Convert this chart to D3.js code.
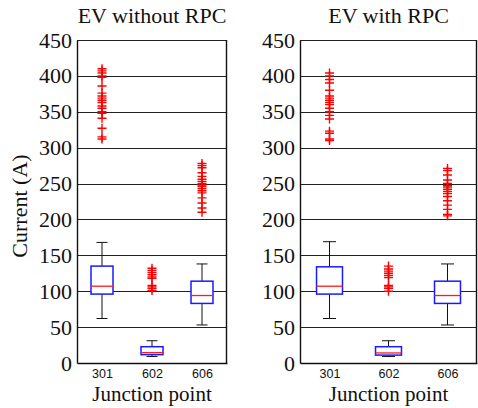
<!DOCTYPE html>
<html>
<head>
  <script src="https://d3js.org/d3.v7.min.js"></script>
  <style>
    body { margin: 0; background: #fff; }
  </style>
</head>
<body>
<div id="chartArea"></div>
<script>
// categories and tick labels
var junctions = ["301", "602", "606"];
var panelTitles = ["EV without RPC", "EV with RPC"];
var yTicks = [0, 50, 100, 150, 200, 250, 300, 350, 400, 450];

// box statistics, EV without RPC
var noRpcLow    = [62, 9, 53];
var noRpcQ1     = [96, 11.6, 83];
var noRpcMedian = [107, 14.4, 94];
var noRpcQ3     = [135, 22.7, 114];
var noRpcHigh   = [168, 31, 138];
var noRpcOut301 = [410, 407, 404, 400, 398, 386, 376, 372, 369, 366, 363, 358, 355, 350, 348, 341, 327, 315, 312];
var noRpcOut602 = [132, 129, 126, 123, 120, 118, 108, 106, 104, 101];
var noRpcOut606 = [278, 275, 272, 265, 260, 256, 253, 250, 248, 246, 243, 240, 237, 230, 223, 216, 210];

// box statistics, EV with RPC
var rpcLow    = [62, 9, 53];
var rpcQ1     = [96, 11, 83];
var rpcMedian = [107, 14, 94];
var rpcQ3     = [134, 22.7, 114];
var rpcHigh   = [169, 31, 138];
var rpcOut301 = [404, 400, 395, 390, 380, 372, 369, 366, 363, 360, 355, 350, 345, 340, 323, 320, 312, 310];
var rpcOut602 = [135, 131, 128, 125, 122, 119, 108, 106, 104, 100];
var rpcOut606 = [271, 268, 262, 255, 250, 247, 245, 242, 239, 236, 232, 226, 220, 214, 207, 205];

var serif = "'Liberation Serif', 'Times New Roman', serif";
var sans = "'Liberation Sans', Arial, sans-serif";

var w = 478, h = 408;
var svg = d3.select("#chartArea").append("svg").attr("width", w).attr("height", h);

var y = d3.scaleLinear().domain([0, 450]).range([363, 40]);

var panels = [
  { title: panelTitles[0], x0: 77, x1: 227,
    low: noRpcLow, q1: noRpcQ1, med: noRpcMedian, q3: noRpcQ3, high: noRpcHigh,
    out: [noRpcOut301, noRpcOut602, noRpcOut606] },
  { title: panelTitles[1], x0: 300, x1: 477,
    low: rpcLow, q1: rpcQ1, med: rpcMedian, q3: rpcQ3, high: rpcHigh,
    out: [rpcOut301, rpcOut602, rpcOut606] }
];

panels.forEach(function(p) {
  var x = d3.scalePoint().domain(junctions).range([p.x0, p.x1]).padding(0.5);
  var bw = x.step() * 0.44;
  var g = svg.append("g");

  // grid lines
  g.selectAll(".grid").data(yTicks.filter(function(d) { return d > 0; }))
    .enter().append("line")
    .attr("x1", p.x0).attr("x2", p.x1)
    .attr("y1", function(d) { return Math.round(y(d)) + 0.5; })
    .attr("y2", function(d) { return Math.round(y(d)) + 0.5; })
    .attr("stroke", "#222").attr("stroke-width", 1);

  // right frame
  g.append("line").attr("x1", p.x1 - 0.5).attr("x2", p.x1 - 0.5)
    .attr("y1", y(450)).attr("y2", y(0)).attr("stroke", "#111").attr("stroke-width", 1.4);

  // axes
  var yAxis = d3.axisLeft(y).tickValues(yTicks).tickSize(0).tickPadding(5);
  var ya = g.append("g").attr("transform", "translate(" + p.x0 + ",0)").call(yAxis);
  ya.attr("font-family", null).attr("font-size", null);
  ya.select(".domain").attr("stroke", "#111").attr("stroke-width", 1.4);
  ya.selectAll("text").style("font-family", serif).style("font-size", "22px").attr("fill", "#111");

  var xAxis = d3.axisBottom(x).tickSize(0).tickPadding(6);
  var xa = g.append("g").attr("transform", "translate(0," + y(0) + ")").call(xAxis);
  xa.attr("font-family", null).attr("font-size", null);
  xa.select(".domain").attr("stroke", "#111").attr("stroke-width", 1.4);
  xa.selectAll("text").style("font-family", sans).style("font-size", "12.5px").attr("fill", "#111");

  var idx = d3.range(junctions.length);

  // whiskers
  g.selectAll(".whU").data(idx).enter().append("line")
    .attr("x1", function(i) { return x(junctions[i]); }).attr("x2", function(i) { return x(junctions[i]); })
    .attr("y1", function(i) { return y(p.q3[i]); }).attr("y2", function(i) { return y(p.high[i]); })
    .attr("stroke", "#111");
  g.selectAll(".whL").data(idx).enter().append("line")
    .attr("x1", function(i) { return x(junctions[i]); }).attr("x2", function(i) { return x(junctions[i]); })
    .attr("y1", function(i) { return y(p.q1[i]); }).attr("y2", function(i) { return y(p.low[i]); })
    .attr("stroke", "#111");
  g.selectAll(".capU").data(idx).enter().append("line")
    .attr("x1", function(i) { return x(junctions[i]) - bw / 4; }).attr("x2", function(i) { return x(junctions[i]) + bw / 4; })
    .attr("y1", function(i) { return y(p.high[i]); }).attr("y2", function(i) { return y(p.high[i]); })
    .attr("stroke", "#111");
  g.selectAll(".capL").data(idx).enter().append("line")
    .attr("x1", function(i) { return x(junctions[i]) - bw / 4; }).attr("x2", function(i) { return x(junctions[i]) + bw / 4; })
    .attr("y1", function(i) { return y(p.low[i]); }).attr("y2", function(i) { return y(p.low[i]); })
    .attr("stroke", "#111");

  // boxes
  g.selectAll(".box").data(idx).enter().append("rect")
    .attr("x", function(i) { return x(junctions[i]) - bw / 2; })
    .attr("width", bw)
    .attr("y", function(i) { return y(p.q3[i]); })
    .attr("height", function(i) { return y(p.q1[i]) - y(p.q3[i]); })
    .attr("fill", "#fff").attr("stroke", "#1a1aff").attr("stroke-width", 1.5);

  // medians
  g.selectAll(".med").data(idx).enter().append("line")
    .attr("x1", function(i) { return x(junctions[i]) - bw / 2; }).attr("x2", function(i) { return x(junctions[i]) + bw / 2; })
    .attr("y1", function(i) { return y(p.med[i]); }).attr("y2", function(i) { return y(p.med[i]); })
    .attr("stroke", "#ff1a1a").attr("stroke-width", 1.3);

  // outliers as "+"
  idx.forEach(function(i) {
    var cx = x(junctions[i]);
    g.selectAll(".out" + i).data(p.out[i]).enter().append("path")
      .attr("d", function(d) {
        var cy = y(d);
        return "M" + (cx - 4.5) + "," + cy + "H" + (cx + 4.5) + "M" + cx + "," + (cy - 4.5) + "V" + (cy + 4.5);
      })
      .attr("stroke", "#ff0000").attr("stroke-width", 1.4).attr("fill", "none");
  });

  // title and x label
  g.append("text").style("font-family", serif).attr("fill", "#111")
    .attr("x", (p.x0 + p.x1) / 2).attr("y", 23)
    .attr("text-anchor", "middle").style("font-size", "22px").text(p.title);
  g.append("text").style("font-family", serif).attr("fill", "#111")
    .attr("x", (p.x0 + p.x1) / 2).attr("y", 401)
    .attr("text-anchor", "middle").style("font-size", "21px").text("Junction point");
});

svg.append("text").style("font-family", serif).attr("fill", "#111")
  .attr("transform", "translate(27,206) rotate(-90)")
  .attr("text-anchor", "middle").style("font-size", "22px").text("Current (A)");
</script>
</body>
</html>
